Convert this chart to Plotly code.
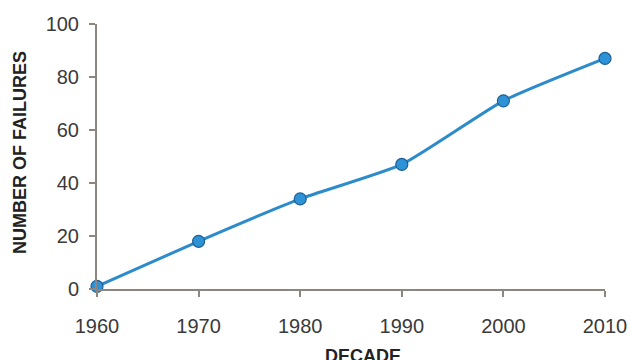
import plotly.graph_objects as go

decades = [1960, 1970, 1980, 1990, 2000, 2010]
failures = [1, 18, 34, 47, 71, 87]
y_ticks = [0, 20, 40, 60, 80, 100]

axis_color = "#8c8580"
text_color = "#3a3a3a"
font_family = "Liberation Sans, Arial, sans-serif"

fig = go.Figure()
fig.add_trace(go.Scatter(
    x=decades,
    y=failures,
    mode="lines+markers",
    line=dict(color="#2b8bcb", width=3, shape="spline", smoothing=0.5),
    marker=dict(size=12, color="#2d93d6", line=dict(color="#1f5f95", width=1.2)),
    cliponaxis=False,
    showlegend=False,
))

fig.update_layout(
    width=630,
    height=360,
    margin=dict(l=97, r=25, t=24, b=71),
    paper_bgcolor="white",
    plot_bgcolor="white",
    font=dict(family=font_family, color=text_color, size=20),
)

fig.update_xaxes(
    range=[1960, 2010],
    tickvals=decades,
    ticktext=[str(d) for d in decades],
    showgrid=False,
    zeroline=False,
    showline=True,
    linecolor=axis_color,
    linewidth=2,
    ticks="outside",
    ticklen=6,
    tickwidth=1.5,
    tickcolor=axis_color,
    tickfont=dict(size=20, color=text_color),
    ticklabelstandoff=12,
    automargin=False,
)

fig.update_yaxes(
    range=[0, 100],
    tickvals=y_ticks,
    showgrid=False,
    zeroline=False,
    showline=True,
    linecolor=axis_color,
    linewidth=2,
    ticks="outside",
    ticklen=6,
    tickwidth=1.5,
    tickcolor=axis_color,
    tickfont=dict(size=20, color=text_color),
    ticklabelstandoff=6,
    automargin=False,
)

# Axis titles
fig.add_annotation(
    text="<b>DECADE</b>", xref="paper", yref="paper",
    x=0.5236, y=-0.2075, xanchor="center", yanchor="top",
    showarrow=False, font=dict(size=18, color="#222222", family=font_family),
)
fig.add_annotation(
    text="<b>NUMBER OF FAILURES</b>", xref="paper", yref="paper",
    x=-0.1516, y=0.517, xanchor="center", yanchor="middle", textangle=-90,
    showarrow=False, font=dict(size=18, color="#222222", family=font_family),
)

fig.write_html("out.html")
